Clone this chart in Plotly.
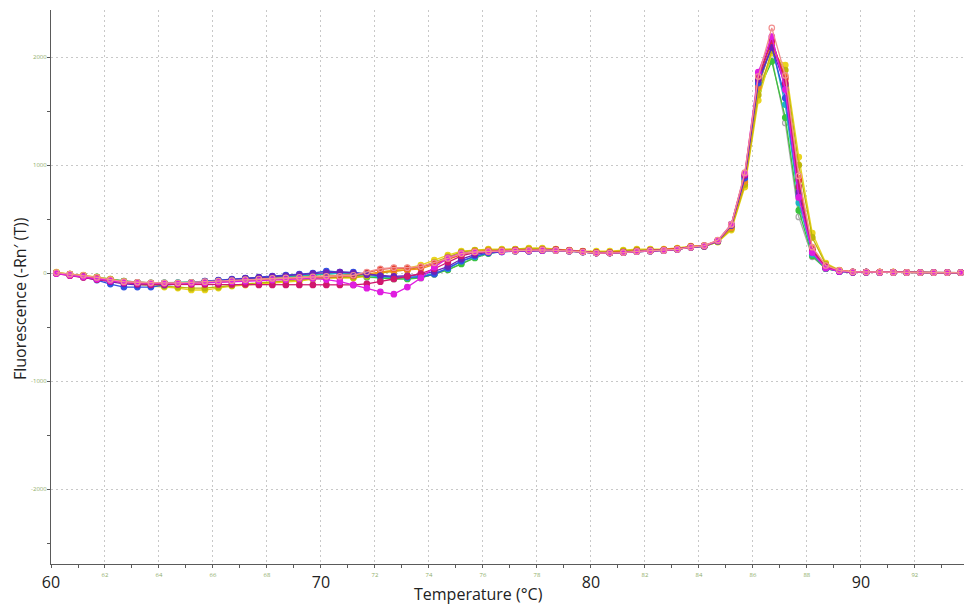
import plotly.graph_objects as go

# Temperature grid (°C)
temps = [60.2, 60.7, 61.2, 61.7, 62.2, 62.7, 63.2, 63.7, 64.2, 64.7,
         65.2, 65.7, 66.2, 66.7, 67.2, 67.7, 68.2, 68.7, 69.2, 69.7,
         70.2, 70.7, 71.2, 71.7, 72.2, 72.7, 73.2, 73.7, 74.2, 74.7,
         75.2, 75.7, 76.2, 76.7, 77.2, 77.7, 78.2, 78.7, 79.2, 79.7,
         80.2, 80.7, 81.2, 81.7, 82.2, 82.7, 83.2, 83.7, 84.2, 84.7,
         85.2, 85.7, 86.2, 86.7, 87.2, 87.7, 88.2, 88.7, 89.2, 89.7,
         90.2, 90.7, 91.2, 91.7, 92.2, 92.7, 93.2, 93.7]

grey = [0, -15, -25, -40, -60, -75, -85, -90, -90, -90,
        -85, -75, -70, -60, -50, -45, -35, -30, -25, -15,
        -5, -5, -20, -40, -45, -50, -50, -40, -10, 30,
        90, 145, 185, 200, 205, 205, 210, 210, 205, 195,
        185, 185, 190, 200, 205, 210, 220, 240, 245, 295,
        430, 860, 1720, 1990, 1390, 520, 150, 40, 15, 8,
        8, 6, 6, 5, 5, 5, 5, 5]
green = [5, -10, -20, -35, -55, -75, -85, -90, -90, -90,
         -85, -80, -70, -60, -50, -45, -40, -35, -30, -20,
         -10, 0, -15, -35, -45, -55, -55, -45, -10, 30,
         85, 140, 180, 200, 205, 205, 210, 210, 205, 195,
         185, 185, 190, 200, 205, 210, 220, 240, 245, 290,
         420, 840, 1690, 1960, 1440, 580, 160, 40, 15, 8,
         8, 6, 6, 5, 5, 5, 5, 5]
cyan = [0, -15, -30, -45, -65, -80, -88, -92, -90, -88,
        -85, -78, -70, -62, -52, -45, -38, -30, -25, -15,
        -5, 0, -10, -25, -35, -40, -40, -30, 0, 40,
        110, 150, 185, 200, 205, 205, 210, 210, 205, 195,
        185, 185, 190, 200, 205, 210, 220, 240, 250, 295,
        435, 870, 1740, 2110, 1560, 650, 175, 45, 15, 8,
        8, 6, 6, 5, 5, 5, 5, 5]
yellow = [9, -9, -19, -37, -56, -83, -102, -120, -130, -139,
          -157, -157, -139, -120, -111, -102, -93, -83, -74, -56,
          -46, -46, -46, -28, 9, 28, 46, 74, 120, 167,
          204, 213, 222, 222, 222, 232, 232, 222, 213, 204,
          204, 204, 213, 222, 222, 222, 232, 250, 250, 287,
          398, 796, 1600, 2037, 1926, 1074, 370, 93, 28, 9,
          9, 8, 8, 6, 6, 5, 5, 5]
olive = [0, -15, -25, -40, -60, -80, -95, -110, -120, -130,
         -140, -140, -130, -115, -100, -90, -80, -70, -65, -55,
         -45, -40, -40, -25, 0, 15, 30, 55, 100, 150,
         195, 210, 215, 215, 220, 225, 225, 220, 210, 200,
         195, 195, 205, 215, 215, 215, 225, 245, 250, 290,
         410, 820, 1650, 2060, 1880, 1000, 330, 80, 25, 10,
         10, 8, 8, 6, 5, 5, 5, 5]
orange = [0, -15, -25, -40, -60, -80, -88, -92, -95, -95,
          -95, -90, -85, -75, -65, -55, -50, -45, -40, -30,
          -25, -20, -20, -10, 10, 20, 25, 40, 80, 125,
          170, 200, 210, 210, 215, 215, 220, 220, 210, 200,
          190, 190, 195, 205, 210, 215, 225, 245, 255, 295,
          420, 850, 1720, 2120, 1820, 880, 230, 70, 25, 12,
          10, 8, 8, 6, 5, 5, 5, 5]
red = [0, -10, -25, -45, -65, -85, -90, -95, -95, -95,
       -90, -85, -80, -75, -65, -60, -55, -50, -45, -40,
       -35, -35, -25, 5, 35, 45, 45, 55, 90, 130,
       175, 195, 200, 205, 210, 210, 215, 215, 210, 200,
       190, 190, 195, 205, 210, 215, 225, 245, 255, 300,
       440, 900, 1790, 2150, 1800, 860, 215, 60, 20, 10,
       10, 8, 8, 5, 5, 5, 5, 5]
blue = [0, -19, -37, -65, -102, -130, -130, -130, -111, -102,
        -93, -74, -65, -56, -46, -37, -28, -19, -9, 0,
        19, 9, 9, -9, -28, -37, -37, -37, -9, 46,
        111, 157, 185, 194, 204, 204, 213, 213, 204, 194,
        185, 185, 190, 200, 205, 210, 220, 240, 250, 295,
        440, 880, 1760, 2090, 1620, 720, 190, 45, 15, 8,
        8, 6, 6, 5, 5, 5, 5, 5]
purple = [0, -20, -35, -55, -80, -100, -110, -110, -105, -100,
          -90, -80, -70, -60, -50, -40, -30, -25, -15, -5,
          5, 10, 0, -15, -25, -30, -25, -15, 15, 60,
          130, 170, 195, 200, 205, 205, 210, 210, 205, 195,
          185, 185, 190, 200, 205, 210, 220, 240, 250, 300,
          450, 900, 1790, 2090, 1740, 750, 200, 50, 15, 8,
          8, 6, 6, 5, 5, 5, 5, 5]
crimson = [-5, -25, -40, -60, -75, -90, -100, -105, -105, -105,
           -105, -105, -105, -105, -105, -110, -110, -110, -110, -110,
           -110, -110, -110, -100, -80, -55, -30, -5, 40, 100,
           160, 190, 200, 205, 210, 210, 215, 215, 205, 195,
           185, 185, 190, 200, 205, 210, 220, 240, 250, 300,
           445, 910, 1820, 2160, 1760, 800, 215, 55, 20, 10,
           10, 8, 6, 6, 5, 5, 5, 5]
magenta = [-5, -20, -35, -55, -70, -85, -90, -95, -95, -95,
           -95, -90, -85, -80, -75, -70, -65, -60, -55, -50,
           -60, -80, -110, -140, -175, -195, -130, -45, 55, 140,
           185, 195, 195, 200, 205, 205, 210, 210, 205, 195,
           185, 185, 190, 200, 205, 210, 220, 240, 250, 300,
           450, 920, 1860, 2190, 1700, 700, 190, 45, 15, 8,
           8, 6, 6, 5, 5, 5, 5, 5]
pink = [5, -10, -20, -40, -60, -80, -85, -90, -90, -90,
        -85, -80, -75, -70, -60, -55, -50, -45, -40, -35,
        -30, -30, -20, 10, 40, 50, 50, 60, 95, 135,
        180, 195, 200, 205, 205, 210, 215, 210, 205, 195,
        185, 185, 190, 200, 205, 210, 220, 240, 255, 305,
        450, 930, 1820, 2270, 1830, 900, 240, 70, 25, 12,
        10, 8, 6, 6, 5, 5, 5, 5]

series = [
    ("Well 1", grey, "#a9a9a9", True),
    ("Well 2", green, "#3cc43c", False),
    ("Well 3", cyan, "#1fb5c4", False),
    ("Well 4", yellow, "#e9d41e", False),
    ("Well 5", olive, "#bdb60a", False),
    ("Well 6", orange, "#f28e1c", False),
    ("Well 7", red, "#e4402c", False),
    ("Well 8", blue, "#3052e2", False),
    ("Well 9", purple, "#6c22b8", False),
    ("Well 10", crimson, "#d0186e", False),
    ("Well 11", magenta, "#e01ee0", False),
    ("Well 12", pink, "#f29090", True),
]

x_minor_ticks = [62, 64, 66, 68, 70, 72, 74, 76, 78, 80, 82, 84, 86, 88, 90, 92]
x_minor_text = ["62", "64", "66", "68", "", "72", "74", "76", "78", "", "82", "84", "86", "88", "", "92"]
x_major_ticks = [60, 70, 80, 90]
x_major_text = ["60", "70", "80", "90"]
y_ticks = [-2000, -1000, 0, 1000, 2000]
y_text = ["-2000", "-1000", "0", "1000", "2000"]

fig = go.Figure()
for name, vals, color, hollow in series:
    fig.add_trace(go.Scatter(
        x=temps, y=vals, name=name, mode="lines+markers",
        line=dict(color=color, width=1.3),
        marker=dict(symbol="circle-open" if hollow else "circle", size=5.5,
                    color=color, line=dict(color=color, width=1.2)),
        showlegend=False,
    ))

# empty trace to attach the overlaying axis with major labels
fig.add_trace(go.Scatter(x=[], y=[], xaxis="x2", showlegend=False))

xr = [60, 93.82]
fig.update_layout(
    width=964, height=606,
    margin=dict(l=51, r=0, t=10, b=42),
    paper_bgcolor="white", plot_bgcolor="white",
    font=dict(family="Open Sans, Noto Sans, sans-serif", color="#222"),
    xaxis=dict(
        range=xr, tickvals=x_minor_ticks, ticktext=x_minor_text,
        tickfont=dict(size=6, color="#8fae6a"),
        showgrid=True, gridcolor="#c8c8c8", griddash="2px,3px", gridwidth=1,
        showline=True, linecolor="#5a5a5a", linewidth=1.2,
        ticks="outside", ticklen=3, tickcolor="#5a5a5a",
        minor=dict(dtick=1, tick0=60, ticks="outside", ticklen=3, tickcolor="#5a5a5a", showgrid=False),
        zeroline=False, ticklabelstandoff=2,
    ),
    xaxis2=dict(
        range=xr, overlaying="x", side="bottom", tickvals=x_major_ticks, ticktext=x_major_text,
        tickfont=dict(size=16, color="#222"), showgrid=False, showline=False,
        ticks="", zeroline=False, ticklabelstandoff=7,
    ),
    yaxis=dict(
        range=[-2694, 2436], tickvals=y_ticks, ticktext=y_text,
        tickfont=dict(size=6, color="#8fae6a"),
        showgrid=True, gridcolor="#c8c8c8", griddash="2px,3px", gridwidth=1,
        showline=True, linecolor="#5a5a5a", linewidth=1.2,
        ticks="", minor=dict(dtick=500, tick0=0, ticks="outside", ticklen=3, tickcolor="#5a5a5a", showgrid=False),
        zeroline=False, ticklabelstandoff=2,
    ),
    annotations=[
        dict(text="Temperature (°C)", xref="paper", yref="paper", x=0.468, y=-0.055,
             xanchor="center", yanchor="middle", showarrow=False,
             font=dict(size=16, color="#222")),
        dict(text="Fluorescence (-Rn′ (T))", xref="paper", yref="paper", x=-0.034, y=0.48,
             xanchor="center", yanchor="middle", showarrow=False, textangle=-90,
             font=dict(size=16, color="#222")),
    ],
)

fig.write_html("out.html")
